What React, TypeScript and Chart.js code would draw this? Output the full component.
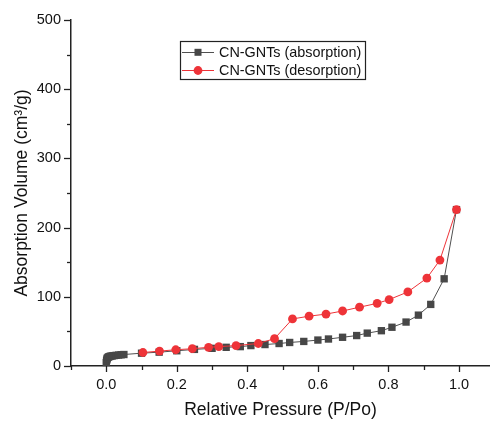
import React, { useEffect, useRef } from "react";
import { Chart, registerables } from "chart.js";

Chart.register(...registerables);

// Relative pressure (P/Po) and volume (cm3/g)
const absorptionX = [0.0, 0.001, 0.002, 0.003, 0.005, 0.007, 0.01, 0.013, 0.017, 0.022, 0.028, 0.035, 0.042, 0.05, 0.1, 0.15, 0.2, 0.25, 0.3, 0.34, 0.38, 0.41, 0.45, 0.49, 0.52, 0.56, 0.6, 0.63, 0.67, 0.71, 0.74, 0.78, 0.81, 0.85, 0.885, 0.92, 0.958, 0.993];
const absorptionY = [5, 8, 10, 11.5, 12.5, 13.2, 13.8, 14.2, 14.6, 15, 15.4, 15.8, 16.2, 16.6, 18.5, 20, 22, 24, 25.5, 27, 28, 29.5, 31, 32.5, 34, 35.5, 37.5, 39, 41.5, 44, 47.5, 51, 56, 63.5, 73.5, 89, 126, 226];

const desorptionX = [0.993, 0.946, 0.909, 0.855, 0.802, 0.768, 0.718, 0.67, 0.623, 0.575, 0.528, 0.477, 0.431, 0.368, 0.319, 0.29, 0.244, 0.197, 0.151, 0.104];
const desorptionY = [226, 153, 127, 107, 96, 90.5, 85, 79.5, 75, 72, 68, 39.5, 32.5, 29.5, 28, 27, 25, 23.5, 21.5, 19.5];

const seriesNames = ["CN-GNTs (absorption)", "CN-GNTs (desorption)"];
const xTicks = [-0.1, 0, 0.1, 0.2, 0.3, 0.4, 0.5, 0.6, 0.7, 0.8, 0.9, 1.0];
const yTicks = [0, 50, 100, 150, 200, 250, 300, 350, 400, 450, 500];
const xTitle = "Relative Pressure (P/Po)";
const yTitle = "Absorption Volume (cm³/g)";

const GRAY = "#474747";
const GRAY_LINE = "#505050";
const RED = "#EE3338";
const FONT = "'Liberation Sans', Arial, sans-serif";

const toPoints = (xs: number[], ys: number[]) => xs.map((x, i) => ({ x, y: ys[i] }));

const tickPlugin = {
  id: "tickMarks",
  afterDraw(chart: any) {
    const ctx = chart.ctx;
    const xs = chart.scales.x;
    const ys = chart.scales.y;
    const area = chart.chartArea;
    ctx.save();
    ctx.strokeStyle = "#222";
    ctx.lineWidth = 1.3;
    xTicks.forEach((v) => {
      const px = Math.round(xs.getPixelForValue(v)) + 0.5;
      const major = Math.round(v * 10) % 2 === 0;
      ctx.beginPath();
      ctx.moveTo(px, area.bottom);
      ctx.lineTo(px, area.bottom + (major ? 6 : 4));
      ctx.stroke();
    });
    yTicks.forEach((v) => {
      const py = Math.round(ys.getPixelForValue(v)) + 0.5;
      const major = v % 100 === 0;
      ctx.beginPath();
      ctx.moveTo(area.left, py);
      ctx.lineTo(area.left - (major ? 7 : 4), py);
      ctx.stroke();
    });
    ctx.restore();
  },
};

const legendPlugin = {
  id: "boxLegend",
  afterDraw(chart: any) {
    const ctx = chart.ctx;
    ctx.save();
    ctx.strokeStyle = "#222";
    ctx.lineWidth = 1.2;
    ctx.strokeRect(180.5, 41.5, 185, 38);
    const rows = [
      { y: 52, color: GRAY, line: GRAY_LINE, style: "rect" },
      { y: 70, color: RED, line: RED, style: "circle" },
    ];
    rows.forEach((r, i) => {
      ctx.strokeStyle = r.line;
      ctx.lineWidth = 1;
      ctx.beginPath();
      ctx.moveTo(182, r.y + 0.5);
      ctx.lineTo(214, r.y + 0.5);
      ctx.stroke();
      ctx.fillStyle = r.color;
      if (r.style === "rect") {
        ctx.fillRect(194.5, r.y - 3.2, 7, 7);
      } else {
        ctx.beginPath();
        ctx.arc(198, r.y + 0.5, 4.4, 0, Math.PI * 2);
        ctx.fill();
      }
      ctx.fillStyle = "#111";
      ctx.font = `14.4px ${FONT}`;
      ctx.textBaseline = "middle";
      ctx.textAlign = "left";
      ctx.fillText(seriesNames[i], 219, r.y + 1);
    });
    ctx.restore();
  },
};

export default function App() {
  const ref = useRef<HTMLCanvasElement | null>(null);
  useEffect(() => {
    if (!ref.current) return;
    const chart = new Chart(ref.current, {
      type: "scatter",
      data: {
        datasets: [
          {
            label: seriesNames[1],
            data: toPoints(desorptionX, desorptionY),
            showLine: true,
            borderColor: RED,
            backgroundColor: RED,
            borderWidth: 1,
            pointStyle: "circle",
            pointRadius: 4.4,
            pointBorderWidth: 0,
            pointBackgroundColor: RED,
            clip: false,
          },
          {
            label: seriesNames[0],
            data: toPoints(absorptionX, absorptionY),
            showLine: true,
            borderColor: GRAY_LINE,
            backgroundColor: GRAY,
            borderWidth: 1,
            pointStyle: "rect",
            pointRadius: 5.2,
            pointBorderWidth: 0,
            pointBackgroundColor: GRAY,
            clip: false,
          },
        ],
      },
      options: {
        responsive: false,
        animation: false,
        devicePixelRatio: 1,
        layout: { autoPadding: false, padding: { left: 0, right: 0, top: 20, bottom: 0 } },
        plugins: { legend: { display: false }, tooltip: { enabled: false } },
        scales: {
          x: {
            type: "linear",
            min: -0.1,
            max: 1.088,
            afterBuildTicks: (s: any) => {
              s.ticks = xTicks.map((v) => ({ value: v }));
            },
            afterFit: (s: any) => {
              s.height = 55;
              s.paddingLeft = 0;
              s.paddingRight = 0;
            },
            grid: { display: false, drawTicks: false },
            border: { display: true, color: "#222", width: 1.5 },
            ticks: {
              autoSkip: false,
              maxRotation: 0,
              padding: 10,
              color: "#111",
              font: { family: FONT, size: 14.5 },
              callback: (v: any) => {
                const n = Number(v);
                return n >= 0 && Math.round(n * 10) % 2 === 0 ? n.toFixed(1) : "";
              },
            },
            title: {
              display: true,
              text: xTitle,
              color: "#111",
              font: { family: FONT, size: 17.5 },
              padding: { top: 0, bottom: 0 },
            },
          },
          y: {
            type: "linear",
            min: 0,
            max: 500,
            afterBuildTicks: (s: any) => {
              s.ticks = yTicks.map((v) => ({ value: v }));
            },
            afterFit: (s: any) => {
              s.width = 71;
              s.paddingTop = 0;
              s.paddingBottom = 0;
            },
            grid: { display: false, drawTicks: false },
            border: { display: true, color: "#222", width: 1.5 },
            ticks: {
              autoSkip: false,
              padding: 10,
              color: "#111",
              font: { family: FONT, size: 14.5 },
              callback: (v: any) => (Number(v) % 100 === 0 ? String(v) : ""),
            },
            title: {
              display: true,
              text: yTitle,
              color: "#111",
              font: { family: FONT, size: 17.5 },
              padding: { top: 12, bottom: 0 },
            },
          },
        },
      },
      plugins: [tickPlugin, legendPlugin],
    } as any);
    return () => chart.destroy();
  }, []);
  return (
    <div style={{ position: "fixed", left: 0, top: 0, width: 490, height: 421, background: "#fff" }}>
      <canvas ref={ref} width={490} height={421} style={{ display: "block" }} />
    </div>
  );
}
